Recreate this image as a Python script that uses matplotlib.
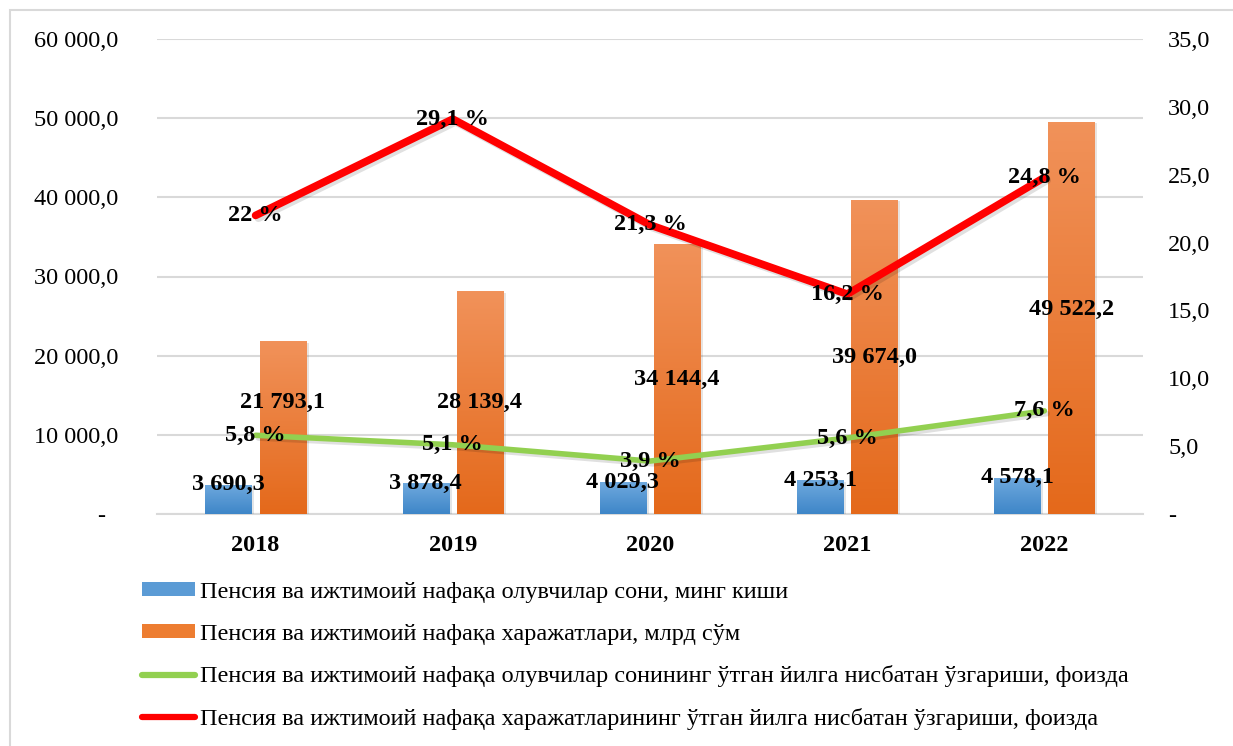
import numpy as np
import matplotlib
matplotlib.use("Agg")
import matplotlib.pyplot as plt
from matplotlib.patches import Patch, Rectangle
from matplotlib.lines import Line2D
from matplotlib.ticker import FuncFormatter
import matplotlib.patheffects as pe

plt.rcParams['font.family'] = ['Liberation Serif', 'DejaVu Serif']

years = ['2018', '2019', '2020', '2021', '2022']
recipients = [3690.3, 3878.4, 4029.3, 4253.1, 4578.1]
spending = [21793.1, 28139.4, 34144.4, 39674.0, 49522.2]
recip_change = [5.8, 5.1, 3.9, 5.6, 7.6]
spend_change = [22, 29.1, 21.3, 16.2, 24.8]
spend_label_y = [14050, 14050, 16960, 19750, 25800]

legend_labels = [
    'Пенсия ва ижтимоий нафақа олувчилар сони, минг киши',
    'Пенсия ва ижтимоий нафақа харажатлари, млрд сўм',
    'Пенсия ва ижтимоий нафақа олувчилар сонининг ўтган йилга нисбатан ўзгариши, фоизда',
    'Пенсия ва ижтимоий нафақа харажатларининг ўтган йилга нисбатан ўзгариши, фоизда',
]

FS = 17.5


def fmt_num(v):
    return f"{v:,.1f}".replace(',', ' ').replace('.', ',')


def fmt_pct(v):
    return f"{v:g}".replace('.', ',') + ' %'


fig = plt.figure(figsize=(12.33, 7.46), dpi=100)
ax = fig.add_axes([157/1233, 1 - 514/746, (1143-157)/1233, (514-39)/746])
ax2 = ax.twinx()

x = np.arange(len(years))
w = 0.235
off = 0.1375


def grad_bars(bars, top_col, bot_col):
    for b in bars:
        x0, y0 = b.get_x(), b.get_y()
        bw, bh = b.get_width(), b.get_height()
        c1 = np.array(matplotlib.colors.to_rgb(top_col))
        c2 = np.array(matplotlib.colors.to_rgb(bot_col))
        t = np.linspace(0, 1, 100)[:, None]
        img = (c1 * (1 - t) + c2 * t)[:, None, :]
        im = ax.imshow(img, extent=[x0, x0 + bw, y0, y0 + bh], aspect='auto',
                       origin='upper', zorder=3)
        im.set_clip_path(b)


bar_shadow = [pe.SimplePatchShadow(offset=(2, -1), alpha=0.12), pe.Normal()]
b1 = ax.bar(x - off, recipients, w, color='#5b9bd5', zorder=3, path_effects=bar_shadow)
b2 = ax.bar(x + off, spending, w, color='#ed7d31', zorder=3, path_effects=bar_shadow)
grad_bars(b1, '#6fa9de', '#3e86c8')
grad_bars(b2, '#f1925a', '#e4691b')

ax.set_xlim(-0.5, 4.5)
ax.set_ylim(0, 60000)
ax.set_yticks(np.arange(0, 60001, 10000))
ax.yaxis.set_major_formatter(FuncFormatter(lambda v, p: '-  ' if v == 0 else fmt_num(v)))
ax.grid(axis='y', color='#d9d9d9', lw=1.5, zorder=0)
ax.set_axisbelow(True)
ax.set_xticks(x)
ax.set_xticklabels(years, fontweight='bold')
for s in ['top', 'left', 'right']:
    ax.spines[s].set_visible(False)
    ax2.spines[s].set_visible(False)
ax.spines['bottom'].set_color('#d9d9d9')
ax.spines['bottom'].set_linewidth(1.5)
ax2.spines['bottom'].set_visible(False)
ax.tick_params(axis='both', length=0, labelsize=FS)
ax.tick_params(axis='y', pad=28)
ax.tick_params(axis='x', pad=15)

for xi, v in zip(x, recipients):
    ax.text(xi - off, v, fmt_num(v), ha='center', va='center', fontsize=FS,
            fontweight='bold', zorder=5)
for xi, v, ly in zip(x, spending, spend_label_y):
    ax.text(xi + off, ly, fmt_num(v), ha='center', va='center', fontsize=FS,
            fontweight='bold', zorder=5)

shadow = [pe.SimpleLineShadow(offset=(2, -2), alpha=0.12), pe.Normal()]
ax2.plot(x, recip_change, color='#92d050', lw=4, solid_capstyle='round',
         path_effects=shadow, zorder=4)
ax2.plot(x, spend_change, color='#ff0000', lw=5.5, solid_capstyle='round',
         path_effects=shadow, zorder=4)
for xi, v in zip(x, recip_change):
    ax2.text(xi, v, fmt_pct(v), ha='center', va='center', fontsize=FS,
             fontweight='bold', zorder=6)
for xi, v in zip(x, spend_change):
    ax2.text(xi, v, fmt_pct(v), ha='center', va='center', fontsize=FS,
             fontweight='bold', zorder=6)

ax2.set_ylim(0, 35)
ax2.set_yticks(np.arange(0, 36, 5))
ax2.yaxis.set_major_formatter(FuncFormatter(lambda v, p: '-' if v == 0 else f"{v:.1f}".replace('.', ',')))
ax2.tick_params(axis='y', length=0, labelsize=FS, pad=18)

handles = [
    Patch(facecolor='#5b9bd5', edgecolor='none'),
    Patch(facecolor='#ed7d31', edgecolor='none'),
    Line2D([], [], color='#92d050', lw=4.5, solid_capstyle='round'),
    Line2D([], [], color='#ff0000', lw=4.5, solid_capstyle='round'),
]
fig.legend(handles, legend_labels, loc='upper left', bbox_to_anchor=(142/1233, 1 - 582/746),
           frameon=False, fontsize=FS, handlelength=2.2, handleheight=0.5,
           handletextpad=0.2, labelspacing=0.85, borderpad=0, borderaxespad=0)

fig.patches.append(Rectangle((10/1233, -0.05), 1.0, 1.05 - 10/746, transform=fig.transFigure,
                             fill=False, edgecolor='#d9d9d9', lw=1.5))

fig.savefig('out.png', dpi=100)
